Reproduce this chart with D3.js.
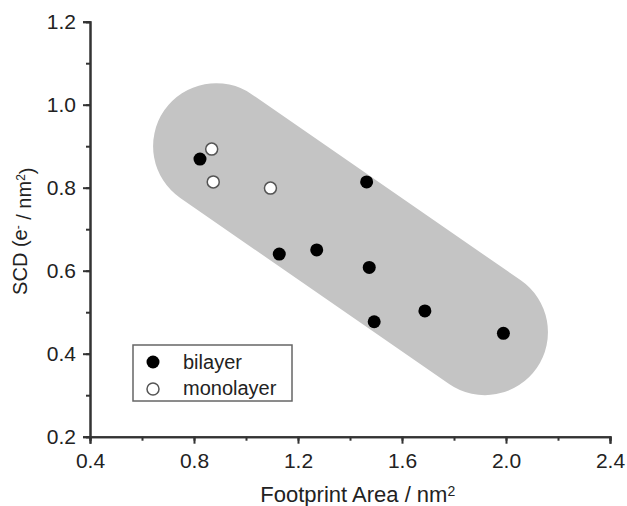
<!DOCTYPE html>
<html lang="en">
<head>
<meta charset="UTF-8">
<title>SCD vs footprint area</title>
<script src="https://d3js.org/d3.v7.min.js"></script>
<style>
  body { margin: 0; background: #fff; }
  text { font-family: "Liberation Sans", Arial, sans-serif; fill: #222; }
</style>
</head>
<body>
<div id="chart"></div>
<script>
    var width = 627, height = 506;

    // data
    var bilayerX = [0.823, 1.464, 1.128, 1.272, 1.474, 1.493, 1.688, 1.990];
    var bilayerY = [0.869, 0.814, 0.640, 0.650, 0.608, 0.477, 0.503, 0.449];
    var monoX = [0.868, 0.874, 1.094];
    var monoY = [0.893, 0.814, 0.799];
    // centre line of the grey band (ends of the capsule)
    var bandX = [0.885, 1.919];
    var bandY = [0.900, 0.452];

    var xTicks = [0.4, 0.8, 1.2, 1.6, 2.0, 2.4];
    var yTicks = [0.2, 0.4, 0.6, 0.8, 1.0, 1.2];
    var legendLabels = ["bilayer", "monolayer"];

    var x = d3.scaleLinear().domain([0.4, 2.4]).range([90, 610]);
    var y = d3.scaleLinear().domain([0.2, 1.2]).range([436.7, 21.7]);

    var svg = d3.select("#chart").append("svg")
        .attr("width", width).attr("height", height);

    // grey capsule band
    svg.append("line")
        .attr("x1", x(bandX[0])).attr("y1", y(bandY[0]))
        .attr("x2", x(bandX[1])).attr("y2", y(bandY[1]))
        .attr("stroke", "#c4c4c4")
        .attr("stroke-width", 126)
        .attr("stroke-linecap", "round");

    // axes
    var axisColor = "#333";
    var xAxis = svg.append("g").attr("transform", "translate(0," + y(0.2) + ")")
        .call(d3.axisBottom(x).tickValues(d3.range(0.4, 2.41, 0.2)).tickSize(4).tickFormat(""));
    var xMaj = svg.append("g").attr("transform", "translate(0," + y(0.2) + ")")
        .call(d3.axisBottom(x).tickValues(xTicks).tickSize(7).tickPadding(10).tickFormat(d3.format(".1f")));
    var yAxis = svg.append("g").attr("transform", "translate(" + x(0.4) + ",0)")
        .call(d3.axisLeft(y).tickValues(d3.range(0.2, 1.21, 0.1)).tickSize(4).tickFormat(""));
    var yMaj = svg.append("g").attr("transform", "translate(" + x(0.4) + ",0)")
        .call(d3.axisLeft(y).tickValues(yTicks).tickSize(7).tickPadding(7).tickFormat(d3.format(".1f")));

    [xAxis, xMaj, yAxis, yMaj].forEach(function(g) {
        g.select(".domain").attr("stroke", axisColor).attr("stroke-width", 2);
        g.selectAll(".tick line").attr("stroke", axisColor).attr("stroke-width", 2);
        g.selectAll("text").style("font-family", "Liberation Sans, Arial, sans-serif")
            .style("font-size", "21px").attr("fill", "#222");
    });
    xMaj.selectAll("text").attr("dy", "0.68em");

    // points
    svg.append("g").selectAll("circle")
        .data(bilayerX)
        .enter().append("circle")
        .attr("cx", function(d) { return x(d); })
        .attr("cy", function(d, i) { return y(bilayerY[i]); })
        .attr("r", 6.5)
        .attr("fill", "#000");

    svg.append("g").selectAll("circle")
        .data(monoX)
        .enter().append("circle")
        .attr("cx", function(d) { return x(d); })
        .attr("cy", function(d, i) { return y(monoY[i]); })
        .attr("r", 6)
        .attr("fill", "#fff")
        .attr("stroke", "#555")
        .attr("stroke-width", 1.5);

    // legend
    var lg = svg.append("g");
    lg.append("rect")
        .attr("x", 133).attr("y", 345).attr("width", 159).attr("height", 56)
        .attr("fill", "#fff").attr("stroke", "#666").attr("stroke-width", 1.5);
    lg.append("circle").attr("cx", 153).attr("cy", 362).attr("r", 6.5).attr("fill", "#000");
    lg.append("circle").attr("cx", 153).attr("cy", 389).attr("r", 6)
        .attr("fill", "#fff").attr("stroke", "#555").attr("stroke-width", 1.5);
    lg.selectAll("text.lbl")
        .data(legendLabels)
        .enter().append("text")
        .attr("class", "lbl")
        .attr("x", 183)
        .attr("y", function(d, i) { return 369 + i * 26; })
        .style("font-size", "20px")
        .text(function(d) { return d; });

    // axis titles
    var xt = svg.append("text")
        .attr("x", x(1.43)).attr("y", 502)
        .attr("text-anchor", "middle")
        .style("font-size", "22px");
    xt.append("tspan").text("Footprint Area / nm");
    xt.append("tspan").attr("dy", "-0.45em").style("font-size", "14px").text("2");

    var yt = svg.append("text")
        .attr("transform", "translate(27," + (y(0.7) + 2) + ") rotate(-90)")
        .attr("text-anchor", "middle")
        .style("font-size", "20px");
    yt.append("tspan").text("SCD (e");
    yt.append("tspan").attr("dy", "-0.45em").style("font-size", "12px").text("-");
    yt.append("tspan").attr("dy", "0.45em").text(" / nm");
    yt.append("tspan").attr("dy", "-0.45em").style("font-size", "12px").text("2");
    yt.append("tspan").attr("dy", "0.45em").text(")");
</script>
</body>
</html>
